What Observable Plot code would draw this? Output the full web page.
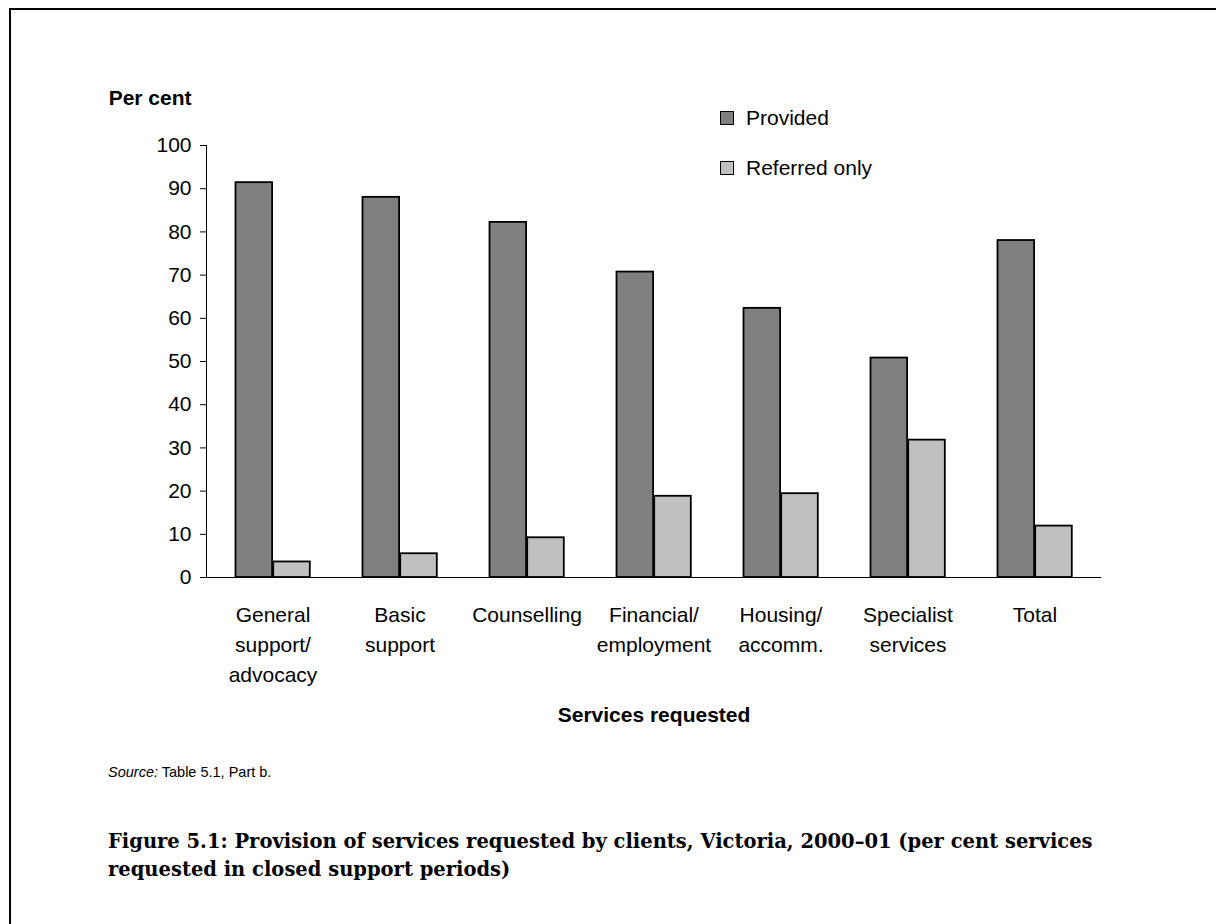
<!DOCTYPE html>
<html><head><meta charset="utf-8">
<script src="https://cdn.jsdelivr.net/npm/d3@7"></script>
<script src="https://cdn.jsdelivr.net/npm/@observablehq/plot@0.6"></script>
<style>
html,body{margin:0;overflow:hidden;}
body{background:#fff;width:1216px;height:924px;position:relative;font-family:"Liberation Sans",Arial,sans-serif;color:#000;}
#frame{position:absolute;left:9px;top:8px;width:1207px;height:916px;border-left:2px solid #000;border-top:2px solid #000;box-sizing:border-box;}
#chart{position:absolute;left:0;top:0;}
.sw{position:absolute;width:14px;height:14px;box-sizing:border-box;border:1.5px solid #000;}
.lt{position:absolute;font-size:21px;line-height:24px;white-space:nowrap;}
#source{position:absolute;left:108px;top:763px;font-size:14.5px;line-height:18px;white-space:nowrap;}
#caption{position:absolute;left:108px;top:828px;font-family:"DejaVu Serif",serif;font-weight:bold;line-height:28px;white-space:nowrap;}
</style></head><body>
<div id="frame"></div>
<div id="chart"></div>
<div id="legend"></div>
<div id="source"><i>Source:</i> Table 5.1, Part b.</div>
<div id="caption"></div>
<script>
const categories = ["General support/advocacy","Basic support","Counselling","Financial/employment","Housing/accomm.","Specialist services","Total"];
const tickLabels = ["General\nsupport/\nadvocacy","Basic\nsupport","Counselling","Financial/\nemployment","Housing/\naccomm.","Specialist\nservices","Total"];
const provided = [91.4, 88.0, 82.2, 70.7, 62.3, 50.8, 78.0];
const referred = [3.6, 5.5, 9.2, 18.8, 19.4, 31.8, 11.9];
const seriesNames = ["Provided","Referred only"];
const seriesColors = ["#808080","#c0c0c0"];
const yTicks = [0,10,20,30,40,50,60,70,80,90,100];
const captionLines = ["Figure 5.1: Provision of services requested by clients, Victoria, 2000\u201301 (per cent services","requested in closed support periods)"];

const rows = categories.map((c,i)=>({category:c, provided:provided[i], referred:referred[i]}));

const chart = Plot.plot({
  width:1216, height:740,
  marginLeft:206, marginRight:115, marginTop:145, marginBottom:163,
  style:{fontFamily:"'Liberation Sans', Arial, sans-serif", fontSize:"21px", color:"#000", background:"transparent", overflow:"visible"},
  x:{domain:categories, padding:0, axis:null},
  y:{domain:[0,100], axis:null},
  marks:[
    Plot.barY(rows,{x:"category", y:"provided", fill:seriesColors[0], stroke:"#000", strokeWidth:1.8, insetLeft:26.5, insetRight:63.9}),
    Plot.barY(rows,{x:"category", y:"referred", fill:seriesColors[1], stroke:"#000", strokeWidth:1.8, insetLeft:64.2, insetRight:26.2}),
    Plot.frame({anchor:"left", stroke:"#000", strokeWidth:1}),
    Plot.ruleY([0],{stroke:"#000", strokeWidth:1.2}),
    Plot.axisY({ticks:yTicks, tickSize:6, tickPadding:9, fontSize:21, label:null, stroke:"#000"}),
    Plot.axisX({tickSize:0, tickPadding:23, fontSize:21, lineHeight:1.43, label:null, tickFormat:d=>tickLabels[categories.indexOf(d)]}),
    Plot.text(["Per cent"],{text:d=>d, frameAnchor:"top-left", dx:-15, dy:-55, textAnchor:"end", fontSize:21, fontWeight:"bold"}),
    Plot.text(["Services requested"],{text:d=>d, frameAnchor:"bottom", dy:144, fontSize:21, fontWeight:"bold"})
  ]
});
document.getElementById("chart").appendChild(chart);

// legend
const lg = document.getElementById("legend");
seriesNames.forEach((s,i)=>{
  const sw = document.createElement("div");
  sw.className="sw"; sw.style.left="720px"; sw.style.top=(111+i*50)+"px"; sw.style.background=seriesColors[i];
  lg.appendChild(sw);
  const t = document.createElement("div");
  t.className="lt"; t.style.left="746px"; t.style.top=(106+i*50)+"px"; t.textContent=s;
  lg.appendChild(t);
});

// caption, sized to fit the reference width
const cap = document.getElementById("caption");
const cv = document.createElement("canvas").getContext("2d");
cv.font = "bold 20px 'DejaVu Serif'";
const w = cv.measureText(captionLines[0]).width;
cap.style.fontSize = (20*985/w).toFixed(2)+"px";
cap.innerHTML = captionLines.join("<br>");
</script>
</body></html>
